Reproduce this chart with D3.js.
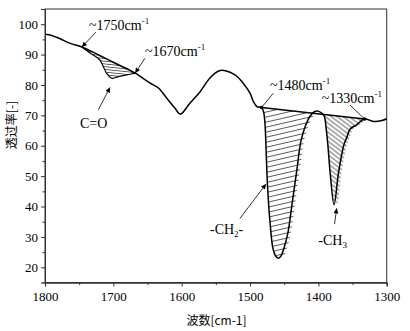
<!DOCTYPE html>
<html>
<head>
<meta charset="utf-8">
<script src="https://cdn.jsdelivr.net/npm/d3@7"></script>
<style>
body { margin: 0; background: #fff; }
svg text { font-family: "Times New Roman", "Liberation Serif", serif; fill: #000; }
.cjk { font-family: "Noto Sans CJK SC", "Noto Sans", sans-serif !important; font-size: 12px; }
</style>
</head>
<body>
<svg id="chart" width="410" height="331"></svg>
<script>
// spectrum (wavenumber cm-1, transmittance)
const wavenumber = [1800,1790,1778,1763,1746,1720,1695,1668,1646,1634,1622,1610,1602,1588,1573,1559,1546,1536,1522,1510,1500,1495,1490,1483,1480,1478,1477,1474.6,1470.6,1466,1461,1458.4,1455,1451,1444.6,1439,1431.5,1425.5,1419,1412,1406,1400,1392,1388.5,1386,1382.7,1377,1370.6,1363,1358,1353.5,1344,1332.5,1319.5,1307,1300];
const transmittance = [96.7,96.3,95.2,93.7,92.5,89.7,86.9,83.9,80.6,79,75.7,72.4,70.4,74,77.8,82.2,84.6,84.7,83.3,80.6,77.3,74.5,72.9,72.6,71.0,66.9,62,47.7,34.5,25.8,23.3,23.0,23.6,25.8,31.3,40,52,61.5,66.5,69.8,71.2,71.4,70.0,65.5,60,51,40.6,51,60,63,65.5,66.9,68.8,68.0,68.3,68.9];

// C=O band (lower curve under the 1750-1670 line)
const coWave = [1746,1734,1720,1714.6,1710,1702.4,1695,1680.4,1668];
const coTrans = [92.5,90.5,88.3,86.0,83.9,82.2,82.6,83.3,83.9];

// baseline 1480 -> 1330
const chBaseWave = [1483, 1332.5];
const chBaseTrans = [72.6, 68.8];

const xTicks = [1800,1700,1600,1500,1400,1300];
const xMinor = [1750,1650,1550,1450,1350];
const yTicks = [20,30,40,50,60,70,80,90,100];
const yMinor = [25,35,45,55,65,75,85,95];

const margin = {top: 9, left: 45, right: 23.3, bottom: 48.5};
const width = 410, height = 331;

const svg = d3.select("#chart");
const x = d3.scaleLinear().domain([1800,1300]).range([margin.left, width - margin.right]);
const y = d3.scaleLinear().domain([15,105]).range([height - margin.bottom, margin.top]);
const baseCH = d3.scaleLinear().domain(chBaseWave).range(chBaseTrans);
const baseCO = d3.scaleLinear().domain([1746,1668]).range([92.5,83.9]);

const spec = wavenumber.map((w,i) => [w, transmittance[i]]);
const co = coWave.map((w,i) => [w, coTrans[i]]);

const defs = svg.append("defs");
function hatch(id, angle, gap) {
  const p = defs.append("pattern").attr("id", id)
    .attr("patternUnits", "userSpaceOnUse")
    .attr("width", 20).attr("height", gap)
    .attr("patternTransform", "rotate(" + angle + ")");
  p.append("line").attr("x1", 0).attr("x2", 20).attr("y1", gap/2).attr("y2", gap/2)
    .attr("stroke", "#333").attr("stroke-width", 0.8);
}
hatch("hCO", 6, 2.7);
hatch("hCH2", -13, 4.9);
hatch("hCH3", 37, 3.6);

const area = d3.area().curve(d3.curveCatmullRom.alpha(0.5))
  .x(d => x(d[0])).y0(d => y(d[2])).y1(d => y(d[1]));

// clip areas, hatched lines overshoot a little on the right edge of the wells
function hatchArea(id, pts, fill, overshoot) {
  const cp = defs.append("clipPath").attr("id", "c" + id);
  cp.append("path").attr("d", area(pts));
  if (overshoot) cp.append("path").attr("d", area(pts)).attr("transform", "translate(" + overshoot + ",0)");
  svg.append("rect").attr("x", 0).attr("y", 0).attr("width", width).attr("height", height)
    .attr("fill", "url(#" + fill + ")").attr("clip-path", "url(#c" + id + ")");
}
hatchArea("co", co.map(d => [d[0], d[1], baseCO(d[0])]), "hCO", 0);
hatchArea("ch2", spec.filter(d => d[0] <= 1483 && d[0] >= 1412).map(d => [d[0], d[1], baseCH(d[0])]), "hCH2", 3);
hatchArea("ch3", spec.filter(d => d[0] <= 1392 && d[0] >= 1332.5).map(d => [d[0], d[1], baseCH(d[0])]), "hCH3", 3);

// frame
svg.append("rect").attr("x", x(1800)).attr("y", y(105))
  .attr("width", x(1300) - x(1800)).attr("height", y(15) - y(105))
  .attr("fill", "none").attr("stroke", "#333").attr("stroke-width", 1);

// axes
const gx = svg.append("g").attr("transform", `translate(0,${y(15)})`)
  .call(d3.axisBottom(x).tickValues(xTicks).tickSize(4).tickPadding(5).tickFormat(d3.format("d")));
svg.append("g").attr("transform", `translate(0,${y(15)})`)
  .call(d3.axisBottom(x).tickValues(xMinor).tickSize(2.5).tickFormat(""));
const gy = svg.append("g").attr("transform", `translate(${x(1800)},0)`)
  .call(d3.axisLeft(y).tickValues(yTicks).tickSize(4).tickPadding(3));
svg.append("g").attr("transform", `translate(${x(1800)},0)`)
  .call(d3.axisLeft(y).tickValues(yMinor).tickSize(2.5).tickFormat(""));
svg.selectAll(".domain").attr("stroke", "#333");
svg.selectAll(".tick line").attr("stroke", "#333");
svg.selectAll(".tick text").style("font-size", "13px").style("font-family", '"Times New Roman","Liberation Serif",serif');

svg.append("text").attr("class", "cjk").attr("text-anchor", "middle")
  .attr("x", 216.5).attr("y", 325).text("波数[cm-1]");
svg.append("text").attr("class", "cjk").attr("text-anchor", "middle")
  .attr("transform", "translate(16,125) rotate(-90)").text("透过率[-]");

// spectrum lines
const line = d3.line().curve(d3.curveCatmullRom.alpha(0.5)).x(d => x(d[0])).y(d => y(d[1]));
svg.append("path").attr("d", line(spec)).attr("fill", "none").attr("stroke", "#000").attr("stroke-width", 1.5);
svg.append("path").attr("d", line(co)).attr("fill", "none").attr("stroke", "#000").attr("stroke-width", 1.2);
svg.append("path").attr("d", line(chBaseWave.map((w,i) => [w, chBaseTrans[i]])))
  .attr("fill", "none").attr("stroke", "#000").attr("stroke-width", 1.4);

// annotations
defs.append("marker").attr("id", "arr").attr("viewBox", "0 0 10 10")
  .attr("refX", 10).attr("refY", 5).attr("markerWidth", 6).attr("markerHeight", 5)
  .attr("markerUnits", "userSpaceOnUse").attr("orient", "auto")
  .append("path").attr("d", "M0,0L10,5L0,10Z").attr("fill", "#000");

const arrows = [
  {from: [1725.4, 97.4], to: [1746, 92.5], head: true},
  {from: [1653.7, 88.8], to: [1668, 83.9], head: true},
  {from: [1722, 71.8], to: [1704.9, 79.2], head: true},
  {from: [1465.9, 77.3], to: [1483, 72.6], head: false},
  {from: [1353.7, 73.4], to: [1332.5, 68.8], head: false},
  {from: [1514.7, 36.1], to: [1476.6, 47.4], head: true},
  {from: [1376.4, 34.2], to: [1373.2, 39.4], head: true}
];
arrows.forEach(a => {
  const l = svg.append("line")
    .attr("x1", x(a.from[0])).attr("y1", y(a.from[1]))
    .attr("x2", x(a.to[0])).attr("y2", y(a.to[1]))
    .attr("stroke", "#000").attr("stroke-width", 0.8);
  if (a.head) l.attr("marker-end", "url(#arr)");
  else svg.append("circle").attr("cx", x(a.to[0])).attr("cy", y(a.to[1])).attr("r", 1.8).attr("fill", "#000");
});

function wnLabel(w, t, txt) {
  const g = svg.append("text").attr("x", x(w)).attr("y", y(t)).style("font-size", "14px");
  g.append("tspan").text(txt + "cm");
  g.append("tspan").attr("dy", -6).style("font-size", "9px").text("-1");
}
wnLabel(1735.6, 98.1, "~1750");
wnLabel(1653.7, 89.5, "~1670");
wnLabel(1470.8, 78.3, "~1480");
wnLabel(1395.1, 74.1, "~1330");

svg.append("text").attr("x", x(1748.8)).attr("y", y(66.0)).style("font-size", "14px").text("C=O");
const ch2 = svg.append("text").attr("x", x(1558.6)).attr("y", y(31.0)).style("font-size", "14px");
ch2.append("tspan").text("-CH");
ch2.append("tspan").attr("dy", 3).style("font-size", "9px").text("2");
ch2.append("tspan").attr("dy", -3).text("-");
const ch3 = svg.append("text").attr("x", x(1400.1)).attr("y", y(27.3)).style("font-size", "14px");
ch3.append("tspan").text("-CH");
ch3.append("tspan").attr("dy", 3).style("font-size", "9px").text("3");
</script>
</body>
</html>
